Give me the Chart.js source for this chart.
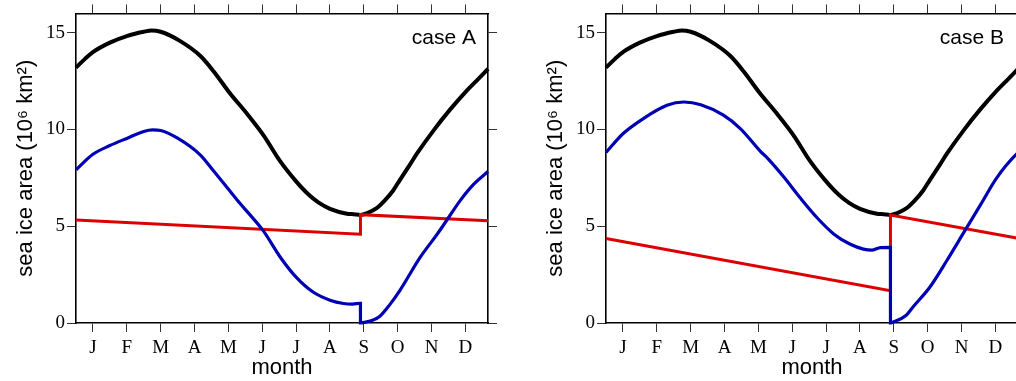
<!DOCTYPE html>
<html><head><meta charset="utf-8">
<script src="https://cdn.jsdelivr.net/npm/chart.js@4"></script>
<style>
html,body{margin:0;padding:0;background:#fff;overflow:hidden;width:1016px;height:381px;position:relative;}
.p{position:absolute;top:0;width:508px;height:381px;}
canvas{display:block;}
</style></head><body>
<div class="p" style="left:0"><canvas id="a" width="508" height="381"></canvas></div>
<div class="p" style="left:530px"><canvas id="b" width="508" height="381"></canvas></div>
<script>
const months = ['J','F','M','A','M','J','J','A','S','O','N','D'];
const monthTickDays = [15,45,75,105,135,165,195,225,255,285,315,345];
const yTicks = [0,5,10,15];

const blackDays = [0,8,15,30,45,60,67,75,92,110,122,136,151,166,181,195,206,215,225,240,246,252,258,266,273,281,287,296,302,317,331,346,355,365];
const blackVals = [13.2,13.65,14.0,14.49,14.83,15.05,15.12,15.05,14.58,13.81,13.0,11.9,10.85,9.71,8.35,7.32,6.64,6.22,5.9,5.65,5.62,5.58,5.68,5.92,6.3,6.85,7.4,8.2,8.75,9.97,11.0,12.0,12.53,13.13];

const blueADays = [0,15,30,45,60,68,75,90,110,122,136,145,154,166,181,195,210,225,237,245,252,252,255,262,269,278,287,305,320,331,340,352,365];
const blueAVals = [7.92,8.72,9.17,9.54,9.9,9.98,9.95,9.55,8.69,7.85,6.85,6.2,5.6,4.76,3.4,2.37,1.6,1.18,1.01,0.98,1.02,0,0.03,0.13,0.34,0.95,1.69,3.4,4.59,5.53,6.3,7.15,7.83];

const blueBDays = [0,15,33,54,69,84,104,119,137,143,157,172,187,202,216,228,236,243,252,252,254,266,272,287,302,317,332,346,363,365];
const blueBVals = [8.81,9.78,10.56,11.25,11.42,11.28,10.74,10.05,8.86,8.52,7.58,6.47,5.44,4.59,4.08,3.82,3.77,3.9,3.91,0,0.04,0.4,0.83,1.86,3.23,4.68,6.13,7.49,8.69,8.78];

const redADays = [0,252,252,365];
const redAVals = [5.32,4.59,5.6,5.29];
const redBDays = [0,252,252,365];
const redBVals = [4.37,1.67,5.58,4.38];

const pts = (d, v) => d.map((x, i) => ({x: x, y: v[i]}));

const caseLabel = {
  id: 'caseLabel',
  afterDraw(chart, args, opts) {
    const {ctx, chartArea} = chart;
    ctx.save();
    ctx.font = '21px "Liberation Sans", Arial, sans-serif';
    ctx.fillStyle = '#000';
    ctx.textAlign = 'right';
    ctx.textBaseline = 'alphabetic';
    ctx.fillText(opts.text, chartArea.right - opts.inset, chartArea.top + 31);
    ctx.restore();
  }
};

const serif = {family: '"Liberation Serif", "Times New Roman", serif', size: 19};
const sans = {family: '"Liberation Sans", Arial, sans-serif', size: 22, lineHeight: 1};

function makeChart(id, blueD, blueV, redD, redV, label, inset) {
  const gridOpts = {drawOnChartArea: false, drawTicks: true, tickLength: 9, color: '#333', lineWidth: 1};
  const borderOpts = {display: true, color: '#000', width: 1.6};
  new Chart(document.getElementById(id), {
    type: 'line',
    data: {
      datasets: [
        {data: pts(blueD, blueV), borderColor: '#0000b4', borderWidth: 3.2, cubicInterpolationMode: 'monotone', clip: 6},
        {data: pts(redD, redV), borderColor: '#dd0000', borderWidth: 3, tension: 0, clip: 6},
        {data: pts(blackDays, blackVals), borderColor: '#000', borderWidth: 4, cubicInterpolationMode: 'monotone', clip: 6}
      ]
    },
    options: {
      responsive: false,
      animation: false,
      layout: {padding: 0},
      elements: {point: {radius: 0}},
      plugins: {legend: {display: false}, tooltip: {enabled: false}, caseLabel: {text: label, inset: inset}},
      scales: {
        x: {
          type: 'linear', position: 'bottom', min: 0, max: 365,
          afterBuildTicks: s => { s.ticks = monthTickDays.map(v => ({value: v})); },
          afterFit: s => { s.height = 58; },
          ticks: {callback: (v, i) => months[i], font: serif, color: '#000', padding: 5, maxRotation: 0, autoSkip: false},
          grid: gridOpts, border: borderOpts,
          title: {display: true, text: 'month', font: sans, color: '#000', padding: {top: 0, bottom: 2}}
        },
        x2: {
          type: 'linear', position: 'top', min: 0, max: 365,
          afterBuildTicks: s => { s.ticks = monthTickDays.map(v => ({value: v})); },
          afterFit: s => { s.height = 11; },
          ticks: {display: false},
          grid: gridOpts, border: borderOpts
        },
        y: {
          type: 'linear', position: 'left', min: 0, max: 16,
          afterBuildTicks: s => { s.ticks = yTicks.map(v => ({value: v})); },
          afterFit: s => { s.width = 76; },
          ticks: {callback: v => String(v), font: serif, color: '#000', padding: 2},
          grid: gridOpts, border: borderOpts,
          title: {display: true, text: 'sea ice area (10⁶ km²)', font: sans, color: '#000', padding: {top: 15, bottom: 0}}
        },
        y2: {
          type: 'linear', position: 'right', min: 0, max: 16,
          afterBuildTicks: s => { s.ticks = yTicks.map(v => ({value: v})); },
          afterFit: s => { s.width = 20; },
          ticks: {display: false},
          grid: gridOpts, border: borderOpts
        }
      }
    },
    plugins: [caseLabel]
  });
}

makeChart('a', blueADays, blueAVals, redADays, redAVals, 'case A', 12);
makeChart('b', blueBDays, blueBVals, redBDays, redBVals, 'case B', 14);
</script>
</body></html>
